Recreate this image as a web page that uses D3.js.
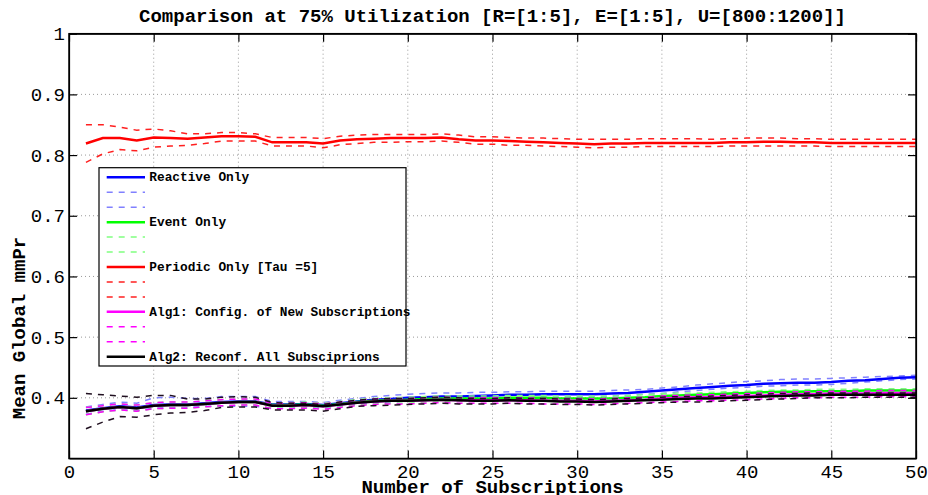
<!DOCTYPE html>
<html>
<head>
	<meta http-equiv="Content-Type" content="text/html;charset=UTF-8">
	<title>Comparison at 75% Utilization</title>
	<style>
		body { margin: 0; background: #fff; }
		svg text { font-family: "Liberation Mono", "Courier New", monospace; fill: #000; }
		.grid-line { stroke: #9a9a9a; stroke-width: 1; stroke-dasharray: 1,3; }
		.axis path, .axis line { stroke: #000; stroke-width: 1.2; }
	</style>
</head>
<body>

	<div class="chart"></div>

	<script src="https://d3js.org/d3.v7.min.js"></script>
	<script type="text/javascript">

		// number of subscriptions (x)
		var subscriptions = [1,2,3,4,5,6,7,8,9,10,11,12,13,14,15,16,17,18,19,20,21,22,23,24,25,
			26,27,28,29,30,31,32,33,34,35,36,37,38,39,40,41,42,43,44,45,46,47,48,49,50];

		var xTicks = [0,5,10,15,20,25,30,35,40,45,50];
		var xTickLabels = ["0","5","10","15","20","25","30","35","40","45","50"];
		var yTicks = [0.4,0.5,0.6,0.7,0.8,0.9,1];
		var yTickLabels = ["0.4","0.5","0.6","0.7","0.8","0.9","1"];

		// Reactive Only
		var reactiveMean = [0.379,0.383,0.386,0.384,0.388,0.389,0.389,0.391,0.393,0.394,0.394,0.389,0.389,0.390,0.388,0.391,0.394,0.397,0.398,0.400,0.401,0.402,0.402,0.403,0.404,
			0.405,0.405,0.406,0.406,0.406,0.406,0.407,0.408,0.410,0.412,0.414,0.416,0.418,0.420,0.421,0.423,0.424,0.425,0.425,0.426,0.428,0.429,0.431,0.433,0.434];
		var reactiveHi = [0.385,0.389,0.393,0.391,0.400,0.401,0.399,0.399,0.402,0.402,0.402,0.394,0.394,0.394,0.392,0.396,0.399,0.402,0.404,0.406,0.407,0.408,0.408,0.409,0.409,
			0.410,0.410,0.411,0.411,0.411,0.411,0.412,0.413,0.414,0.416,0.418,0.421,0.423,0.425,0.427,0.428,0.430,0.431,0.431,0.432,0.433,0.434,0.435,0.436,0.437];
		var reactiveLo = [0.373,0.378,0.381,0.379,0.383,0.384,0.384,0.386,0.386,0.386,0.386,0.383,0.383,0.384,0.383,0.386,0.389,0.392,0.393,0.395,0.396,0.397,0.397,0.398,0.399,
			0.400,0.400,0.401,0.401,0.402,0.402,0.403,0.404,0.406,0.407,0.410,0.412,0.414,0.416,0.4175,0.419,0.420,0.421,0.421,0.422,0.424,0.426,0.428,0.430,0.431];

		// Event Only
		var eventMean = [0.378,0.382,0.385,0.383,0.387,0.388,0.388,0.390,0.392,0.393,0.393,0.388,0.388,0.389,0.387,0.390,0.393,0.395,0.396,0.397,0.398,0.399,0.399,0.399,0.399,
			0.400,0.400,0.400,0.399,0.399,0.399,0.399,0.400,0.401,0.403,0.404,0.405,0.406,0.407,0.408,0.409,0.410,0.410,0.411,0.411,0.411,0.412,0.412,0.412,0.412];
		var eventHi = [0.384,0.387,0.390,0.388,0.392,0.393,0.393,0.395,0.397,0.398,0.398,0.392,0.392,0.393,0.391,0.394,0.397,0.399,0.400,0.401,0.402,0.403,0.403,0.403,0.403,
			0.404,0.404,0.404,0.403,0.403,0.403,0.403,0.404,0.405,0.407,0.408,0.408,0.409,0.410,0.411,0.412,0.413,0.413,0.414,0.414,0.414,0.415,0.415,0.415,0.415];
		var eventLo = [0.372,0.377,0.380,0.378,0.382,0.383,0.383,0.385,0.387,0.388,0.388,0.383,0.383,0.384,0.382,0.385,0.388,0.390,0.391,0.391,0.393,0.394,0.394,0.394,0.394,
			0.395,0.395,0.395,0.394,0.394,0.394,0.394,0.395,0.396,0.398,0.400,0.401,0.402,0.403,0.404,0.405,0.406,0.407,0.408,0.408,0.408,0.409,0.409,0.409,0.409];

		// Periodic Only [Tau = 5]
		var periodicMean = [0.819,0.828,0.828,0.824,0.829,0.828,0.827,0.829,0.831,0.831,0.830,0.821,0.821,0.821,0.819,0.824,0.826,0.827,0.828,0.828,0.828,0.829,0.826,0.824,0.824,
			0.823,0.822,0.821,0.820,0.819,0.818,0.819,0.819,0.820,0.820,0.820,0.820,0.820,0.821,0.821,0.822,0.822,0.821,0.821,0.820,0.820,0.820,0.820,0.820,0.820];
		var periodicHi = [0.850,0.850,0.846,0.841,0.843,0.840,0.835,0.835,0.837,0.837,0.835,0.829,0.829,0.829,0.827,0.831,0.833,0.834,0.834,0.834,0.834,0.835,0.833,0.830,0.830,
			0.829,0.828,0.828,0.827,0.826,0.826,0.826,0.826,0.827,0.827,0.827,0.827,0.826,0.827,0.828,0.828,0.828,0.827,0.827,0.826,0.826,0.826,0.826,0.826,0.826];
		var periodicLo = [0.788,0.802,0.809,0.807,0.813,0.815,0.816,0.819,0.823,0.823,0.823,0.815,0.815,0.815,0.812,0.817,0.819,0.821,0.821,0.822,0.822,0.823,0.821,0.818,0.818,
			0.816,0.816,0.815,0.814,0.813,0.812,0.813,0.813,0.814,0.814,0.814,0.814,0.814,0.815,0.815,0.815,0.815,0.815,0.815,0.814,0.814,0.814,0.814,0.814,0.814];

		// Alg1: Config. of New Subscriptions
		var alg1Mean = [0.378,0.382,0.385,0.383,0.387,0.388,0.388,0.390,0.392,0.393,0.393,0.387,0.387,0.388,0.386,0.389,0.392,0.394,0.395,0.395,0.396,0.397,0.396,0.396,0.396,
			0.396,0.396,0.395,0.395,0.395,0.394,0.395,0.396,0.397,0.399,0.400,0.401,0.401,0.402,0.403,0.404,0.405,0.406,0.406,0.407,0.407,0.407,0.408,0.408,0.408];
		var alg1Hi = [0.384,0.387,0.390,0.388,0.392,0.393,0.393,0.395,0.397,0.398,0.398,0.391,0.391,0.392,0.390,0.393,0.396,0.398,0.399,0.399,0.400,0.401,0.400,0.400,0.400,
			0.400,0.400,0.399,0.399,0.399,0.398,0.399,0.400,0.401,0.403,0.404,0.405,0.405,0.406,0.407,0.408,0.409,0.410,0.410,0.411,0.411,0.411,0.412,0.412,0.412];
		var alg1Lo = [0.372,0.377,0.380,0.378,0.382,0.383,0.383,0.385,0.387,0.388,0.388,0.382,0.382,0.383,0.381,0.384,0.387,0.389,0.390,0.390,0.391,0.392,0.391,0.391,0.391,
			0.391,0.391,0.390,0.390,0.390,0.389,0.390,0.391,0.392,0.393,0.394,0.395,0.395,0.396,0.397,0.398,0.399,0.400,0.400,0.401,0.401,0.401,0.402,0.402,0.402];

		// Alg2: Reconf. All Subsciprions
		var alg2Mean = [0.378,0.382,0.385,0.383,0.387,0.388,0.388,0.390,0.392,0.393,0.393,0.387,0.387,0.388,0.386,0.389,0.392,0.394,0.395,0.395,0.396,0.397,0.396,0.395,0.395,
			0.396,0.395,0.395,0.394,0.394,0.393,0.394,0.395,0.396,0.397,0.398,0.399,0.399,0.400,0.401,0.402,0.403,0.404,0.404,0.405,0.405,0.405,0.405,0.405,0.405];
		var alg2Hi = [0.407,0.405,0.403,0.401,0.404,0.404,0.398,0.398,0.401,0.402,0.401,0.392,0.391,0.391,0.389,0.393,0.396,0.398,0.399,0.399,0.400,0.401,0.400,0.399,0.399,
			0.400,0.399,0.399,0.398,0.398,0.397,0.398,0.399,0.400,0.401,0.402,0.402,0.403,0.404,0.405,0.406,0.407,0.407,0.408,0.408,0.408,0.408,0.408,0.408,0.408];
		var alg2Lo = [0.349,0.360,0.369,0.368,0.372,0.375,0.376,0.379,0.384,0.385,0.385,0.380,0.380,0.380,0.378,0.382,0.386,0.387,0.388,0.389,0.390,0.391,0.390,0.390,0.390,
			0.391,0.390,0.390,0.389,0.389,0.388,0.389,0.390,0.391,0.392,0.393,0.393,0.394,0.395,0.396,0.397,0.398,0.399,0.400,0.400,0.400,0.401,0.401,0.401,0.401];

		var w = 928,
			h = 495;
		var pLeft = 69, pRight = 916, pTop = 33.7, pBottom = 458.5;

		// series in plot order; dashed bounds use a lighter colour for some
		var series = [
			{ name: "Reactive Only", color: "#0000ff", band: "#8080ff", mean: reactiveMean, hi: reactiveHi, lo: reactiveLo, legendBand: true },
			{ name: "Event Only", color: "#00ff00", band: "#80ff80", mean: eventMean, hi: eventHi, lo: eventLo, legendBand: true },
			{ name: "Periodic Only [Tau =5]", color: "#ff0000", band: "#ff2020", mean: periodicMean, hi: periodicHi, lo: periodicLo, legendBand: true },
			{ name: "Alg1: Config. of New Subscriptions", color: "#ff00ff", band: "#ff00ff", mean: alg1Mean, hi: alg1Hi, lo: alg1Lo, legendBand: true },
			{ name: "Alg2: Reconf. All Subsciprions", color: "#000000", band: "#201020", mean: alg2Mean, hi: alg2Hi, lo: alg2Lo, legendBand: false }
		];

		var SVG = d3.select("div.chart").append("svg")
					.attr("width", w)
					.attr("height", h);

		var xScale = d3.scaleLinear().domain([0, 50]).range([pLeft, pRight]);
		var yScale = d3.scaleLinear().domain([0.3, 1]).range([pBottom, pTop]);

		// grid
		SVG.append("g").selectAll("line.gx")
			.data(xTicks.filter(function(d){ return d > 0 && d < 50; }))
			.enter().append("line")
			.attr("class", "grid-line")
			.attr("x1", function(d){ return xScale(d); }).attr("x2", function(d){ return xScale(d); })
			.attr("y1", pTop).attr("y2", pBottom);

		SVG.append("g").selectAll("line.gy")
			.data(yTicks.filter(function(d){ return d < 1; }))
			.enter().append("line")
			.attr("class", "grid-line")
			.attr("x1", pLeft).attr("x2", pRight)
			.attr("y1", function(d){ return yScale(d); }).attr("y2", function(d){ return yScale(d); });

		// lines
		var line = d3.line()
			.x(function(d, i){ return xScale(subscriptions[i]); })
			.y(function(d){ return yScale(d); });

		var plot = SVG.append("g").attr("class", "lines");
		series.forEach(function(s){
			[s.hi, s.lo].forEach(function(b){
				plot.append("path")
					.attr("d", line(b))
					.attr("fill", "none")
					.attr("stroke", s.band)
					.attr("stroke-width", 1.5)
					.attr("stroke-dasharray", "6,6");
			});
			plot.append("path")
				.attr("d", line(s.mean))
				.attr("fill", "none")
				.attr("stroke", s.color)
				.attr("stroke-width", 2.5);
		});

		// axes (ticks point inward, box all round)
		var xAxis = d3.axisBottom(xScale).tickValues(xTicks)
			.tickFormat(function(d, i){ return xTickLabels[i]; })
			.tickSizeInner(-8).tickSizeOuter(0).tickPadding(6);
		var yAxis = d3.axisLeft(yScale).tickValues(yTicks)
			.tickFormat(function(d, i){ return yTickLabels[i]; })
			.tickSizeInner(-8).tickSizeOuter(0).tickPadding(4);

		SVG.append("g").attr("class", "axis x-axis")
			.attr("transform", "translate(0," + pBottom + ")")
			.call(xAxis);
		SVG.append("g").attr("class", "axis")
			.attr("transform", "translate(0," + pTop + ")")
			.call(d3.axisTop(xScale).tickValues(xTicks).tickFormat("").tickSizeInner(-8).tickSizeOuter(0));
		SVG.append("g").attr("class", "axis y-axis")
			.attr("transform", "translate(" + pLeft + ",0)")
			.call(yAxis);
		SVG.append("g").attr("class", "axis")
			.attr("transform", "translate(" + pRight + ",0)")
			.call(d3.axisRight(yScale).tickValues(yTicks).tickFormat("").tickSizeInner(-8).tickSizeOuter(0));

		SVG.selectAll(".axis text")
			.style("font-size", "19px")
			.style("font-family", "'Liberation Mono', 'Courier New', monospace");

		SVG.append("rect")
			.attr("x", pLeft).attr("y", pTop)
			.attr("width", pRight - pLeft).attr("height", pBottom - pTop)
			.attr("fill", "none").attr("stroke", "#000").attr("stroke-width", 1.5);

		// titles
		SVG.append("text")
			.attr("x", (pLeft + pRight) / 2).attr("y", 21.5)
			.attr("text-anchor", "middle")
			.style("font-size", "19px").style("font-weight", "bold")
			.text("Comparison at 75% Utilization [R=[1:5], E=[1:5], U=[800:1200]]");

		SVG.append("text")
			.attr("x", (pLeft + pRight) / 2).attr("y", 493)
			.attr("text-anchor", "middle")
			.style("font-size", "19px").style("font-weight", "bold")
			.text("Number of Subscriptions");

		SVG.append("text")
			.attr("transform", "translate(25,328) rotate(-90)")
			.attr("text-anchor", "middle")
			.style("font-size", "19px").style("font-weight", "bold")
			.text("Mean Global mmPr");

		// legend
		var legend = SVG.append("g").attr("class", "legend");
		legend.append("rect")
			.attr("x", 99).attr("y", 167.7)
			.attr("width", 307).attr("height", 198.3)
			.attr("fill", "#fff").attr("stroke", "#000").attr("stroke-width", 1.2);

		var rows = [];
		series.forEach(function(s){
			rows.push({ color: s.color, dash: null, width: 2.5, label: s.name });
			if (s.legendBand) {
				rows.push({ color: s.band, dash: "6,6", width: 1.5, label: "" });
				rows.push({ color: s.band, dash: "6,6", width: 1.5, label: "" });
			}
		});

		var row = legend.selectAll("g.row").data(rows).enter().append("g")
			.attr("class", "row")
			.attr("transform", function(d, i){ return "translate(0," + (177.3 + i * 14.95) + ")"; });
		row.append("line")
			.attr("x1", 106.7).attr("x2", 145).attr("y1", 0).attr("y2", 0)
			.attr("stroke", function(d){ return d.color; })
			.attr("stroke-width", function(d){ return d.width; })
			.attr("stroke-dasharray", function(d){ return d.dash; });
		row.append("text")
			.attr("x", 149.3).attr("y", 4)
			.style("font-size", "12.8px").style("font-weight", "bold")
			.text(function(d){ return d.label; });
	</script>
</body>
</html>
